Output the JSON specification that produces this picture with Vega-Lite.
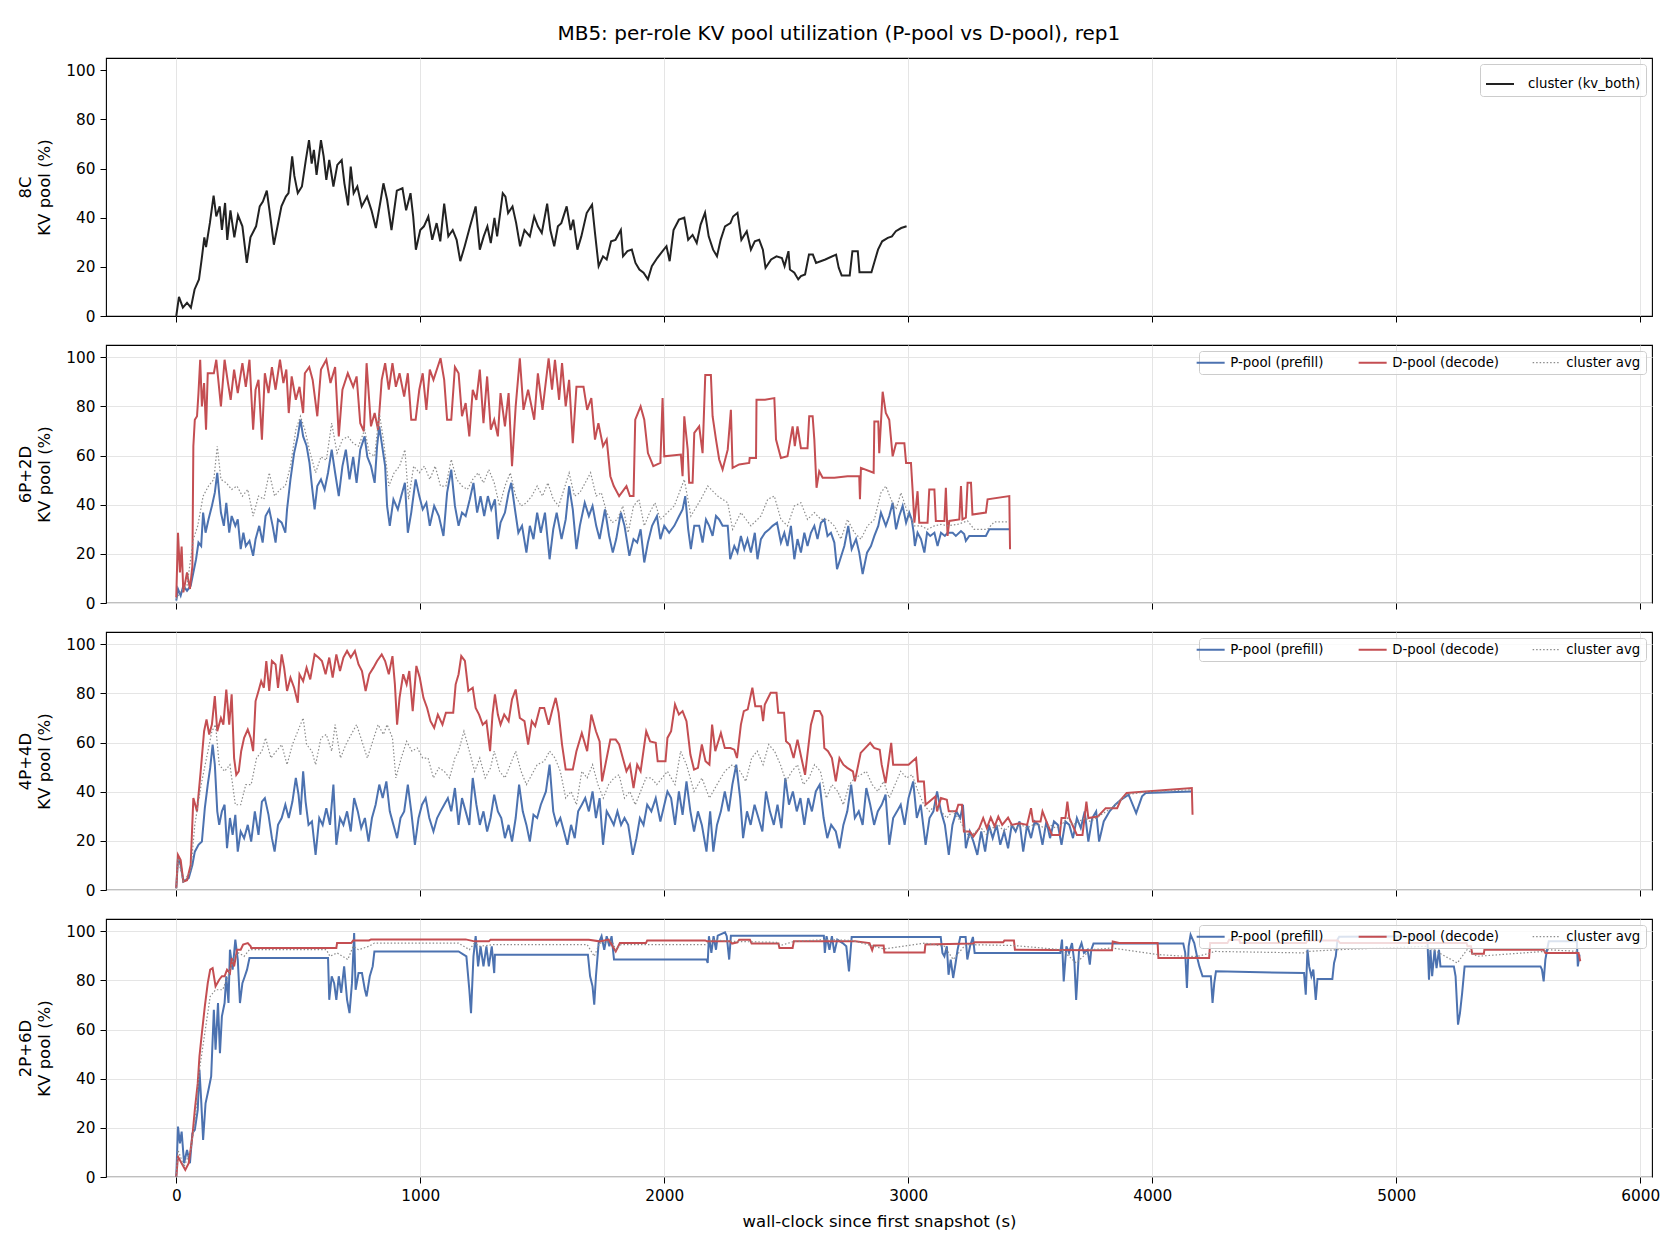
{
"$schema": "https://vega.github.io/schema/vega-lite/v6.json",
"autosize": {"type": "pad"},
"padding": {"left": 17, "top": 24, "right": 0, "bottom": 0},
"background": "white",
"title": {"text": "MB5: per-role KV pool utilization (P-pool vs D-pool), rep1", "fontSize": 20, "font": "DejaVu Sans", "fontWeight": "normal", "anchor": "middle", "offset": 13, "color": "#000"},
"config": {
 "font": "DejaVu Sans",
 "view": {"stroke": "#000", "strokeWidth": 1.1},
 "axis": {"labelFont": "DejaVu Sans", "titleFont": "DejaVu Sans", "labelFontSize": 15.3, "titleFontSize": 16.5, "titleFontWeight": "normal", "titleLineHeight": 19, "labelColor": "#000", "titleColor": "#000", "tickColor": "#000", "tickSize": 6, "domain": false, "gridColor": "#e5e5e5", "gridWidth": 1},
 "legend": {"orient": "top-right", "offset": 6, "title": null, "symbolType": "stroke", "symbolSize": 784, "symbolStrokeWidth": 2, "labelFontSize": 13.3, "labelFont": "DejaVu Sans", "labelOffset": 13, "fillColor": "rgba(255,255,255,0.8)", "strokeColor": "#cccccc", "cornerRadius": 3, "padding": 5, "columnPadding": 30, "direction": "horizontal"}
},
"datasets": {
"p1": [{"t":0,"v":0},{"t":11,"v":7.8},{"t":27,"v":3.4},{"t":44,"v":5.4},{"t":60,"v":3.4},{"t":75,"v":10.8},{"t":93,"v":14.9},{"t":104,"v":23},{"t":115,"v":32},{"t":122,"v":28},{"t":138,"v":38},{"t":153,"v":49},{"t":164,"v":40.5},{"t":178,"v":44.6},{"t":187,"v":35},{"t":200,"v":46},{"t":209,"v":31},{"t":222,"v":43},{"t":238,"v":32},{"t":253,"v":41},{"t":271,"v":36.5},{"t":289,"v":21.6},{"t":304,"v":32},{"t":327,"v":36.5},{"t":342,"v":44.6},{"t":355,"v":46.6},{"t":371,"v":51},{"t":382,"v":43},{"t":400,"v":29},{"t":415,"v":36.5},{"t":431,"v":44.6},{"t":449,"v":48.6},{"t":460,"v":50},{"t":475,"v":65},{"t":484,"v":57},{"t":498,"v":50},{"t":515,"v":52.7},{"t":531,"v":63.5},{"t":544,"v":71.6},{"t":555,"v":62},{"t":564,"v":67.6},{"t":575,"v":57.4},{"t":593,"v":71.6},{"t":604,"v":65},{"t":615,"v":55.4},{"t":627,"v":63.5},{"t":644,"v":52.7},{"t":660,"v":61.5},{"t":678,"v":63.5},{"t":689,"v":54},{"t":704,"v":45},{"t":715,"v":60.8},{"t":727,"v":50},{"t":742,"v":52.7},{"t":760,"v":44.6},{"t":782,"v":48.6},{"t":800,"v":43},{"t":818,"v":35.8},{"t":838,"v":47.3},{"t":849,"v":54},{"t":864,"v":47.3},{"t":882,"v":35},{"t":904,"v":51},{"t":927,"v":52},{"t":942,"v":43},{"t":960,"v":50},{"t":971,"v":40.5},{"t":982,"v":27},{"t":1000,"v":35},{"t":1015,"v":36.5},{"t":1033,"v":40.5},{"t":1049,"v":31},{"t":1067,"v":37.8},{"t":1082,"v":30.4},{"t":1098,"v":45.7},{"t":1115,"v":32.4},{"t":1133,"v":35},{"t":1149,"v":31},{"t":1164,"v":22.3},{"t":1182,"v":28.4},{"t":1204,"v":36.5},{"t":1227,"v":44.6},{"t":1244,"v":27},{"t":1260,"v":32.4},{"t":1275,"v":36.5},{"t":1289,"v":29.7},{"t":1304,"v":39.9},{"t":1315,"v":32.4},{"t":1338,"v":50},{"t":1349,"v":48.6},{"t":1360,"v":41.9},{"t":1378,"v":44.6},{"t":1393,"v":37.8},{"t":1409,"v":28.4},{"t":1427,"v":35},{"t":1449,"v":32.4},{"t":1467,"v":40.5},{"t":1482,"v":36.5},{"t":1498,"v":33.8},{"t":1520,"v":45.7},{"t":1533,"v":35},{"t":1549,"v":28.4},{"t":1564,"v":36.5},{"t":1578,"v":37.8},{"t":1600,"v":44.6},{"t":1616,"v":35},{"t":1627,"v":39.2},{"t":1644,"v":27},{"t":1660,"v":32.4},{"t":1682,"v":41.9},{"t":1704,"v":45.3},{"t":1716,"v":33.8},{"t":1731,"v":20.3},{"t":1749,"v":24.3},{"t":1764,"v":23},{"t":1782,"v":30.4},{"t":1800,"v":31},{"t":1822,"v":35},{"t":1831,"v":24.3},{"t":1849,"v":26.4},{"t":1867,"v":27},{"t":1882,"v":21.6},{"t":1898,"v":18.9},{"t":1915,"v":17.6},{"t":1933,"v":14.9},{"t":1949,"v":20.3},{"t":1971,"v":23.6},{"t":1993,"v":26.4},{"t":2009,"v":28.4},{"t":2022,"v":22.3},{"t":2038,"v":35},{"t":2060,"v":39.2},{"t":2082,"v":40},{"t":2098,"v":31},{"t":2116,"v":33},{"t":2133,"v":29.7},{"t":2149,"v":37.2},{"t":2167,"v":42},{"t":2182,"v":32.4},{"t":2200,"v":27},{"t":2216,"v":24.3},{"t":2231,"v":31},{"t":2249,"v":36.5},{"t":2271,"v":37.8},{"t":2282,"v":40.5},{"t":2300,"v":42},{"t":2316,"v":31},{"t":2338,"v":34.5},{"t":2355,"v":27},{"t":2371,"v":30.4},{"t":2389,"v":31},{"t":2404,"v":27},{"t":2415,"v":19.6},{"t":2438,"v":23},{"t":2460,"v":24.3},{"t":2482,"v":23.6},{"t":2493,"v":20.3},{"t":2509,"v":26.4},{"t":2515,"v":18.9},{"t":2533,"v":17.6},{"t":2549,"v":14.9},{"t":2560,"v":16.2},{"t":2577,"v":16.9},{"t":2593,"v":25},{"t":2609,"v":25},{"t":2622,"v":21.6},{"t":2660,"v":23},{"t":2704,"v":25},{"t":2715,"v":19.6},{"t":2727,"v":16.5},{"t":2760,"v":16.5},{"t":2771,"v":26.4},{"t":2793,"v":26.4},{"t":2800,"v":17.8},{"t":2849,"v":17.8},{"t":2860,"v":21.6},{"t":2876,"v":27},{"t":2893,"v":30.4},{"t":2916,"v":31.8},{"t":2933,"v":32.4},{"t":2949,"v":34.5},{"t":2971,"v":35.8},{"t":2993,"v":36.5}],
"p2P": [{"t":0,"v":1},{"t":7,"v":5.7},{"t":18,"v":3},{"t":29,"v":7},{"t":44,"v":5},{"t":59,"v":7},{"t":70,"v":12.4},{"t":81,"v":17.8},{"t":91,"v":24.6},{"t":102,"v":23.2},{"t":110,"v":36.8},{"t":120,"v":28.6},{"t":132,"v":34},{"t":146,"v":39.5},{"t":158,"v":44.9},{"t":168,"v":53},{"t":183,"v":36.8},{"t":195,"v":31.4},{"t":205,"v":40.8},{"t":217,"v":28.6},{"t":227,"v":35.4},{"t":242,"v":31.4},{"t":252,"v":34},{"t":264,"v":21.9},{"t":275,"v":28.6},{"t":285,"v":23.2},{"t":300,"v":25.3},{"t":315,"v":19.2},{"t":325,"v":26},{"t":340,"v":31.4},{"t":354,"v":24.6},{"t":366,"v":35.4},{"t":381,"v":38.1},{"t":395,"v":31.4},{"t":407,"v":24.6},{"t":417,"v":34},{"t":432,"v":32.7},{"t":447,"v":28.6},{"t":454,"v":38.1},{"t":468,"v":50.3},{"t":483,"v":61},{"t":498,"v":67.8},{"t":509,"v":74.6},{"t":520,"v":67.8},{"t":534,"v":64},{"t":546,"v":57},{"t":556,"v":47.6},{"t":567,"v":38.1},{"t":578,"v":47.6},{"t":593,"v":50.3},{"t":608,"v":46.2},{"t":622,"v":53},{"t":637,"v":62.4},{"t":651,"v":53},{"t":666,"v":43.5},{"t":681,"v":55.7},{"t":695,"v":62.4},{"t":710,"v":50.3},{"t":725,"v":59.5},{"t":739,"v":48.9},{"t":754,"v":62.4},{"t":772,"v":67.8},{"t":783,"v":59.5},{"t":798,"v":55.7},{"t":813,"v":48.9},{"t":823,"v":63.8},{"t":832,"v":71.9},{"t":846,"v":62.4},{"t":856,"v":55.7},{"t":864,"v":39.5},{"t":875,"v":31.4},{"t":890,"v":42.2},{"t":908,"v":38.1},{"t":922,"v":43.5},{"t":937,"v":48.9},{"t":949,"v":28.6},{"t":963,"v":36.8},{"t":981,"v":50.3},{"t":996,"v":43.5},{"t":1010,"v":38.1},{"t":1025,"v":40.8},{"t":1039,"v":31.4},{"t":1057,"v":39.5},{"t":1076,"v":35.4},{"t":1095,"v":27.3},{"t":1110,"v":44.9},{"t":1127,"v":54.3},{"t":1142,"v":39.5},{"t":1157,"v":31.4},{"t":1171,"v":36.8},{"t":1186,"v":35.4},{"t":1203,"v":42.2},{"t":1218,"v":48.9},{"t":1233,"v":36.8},{"t":1247,"v":43.5},{"t":1262,"v":35.4},{"t":1277,"v":43.5},{"t":1291,"v":38.1},{"t":1306,"v":42.2},{"t":1318,"v":26},{"t":1329,"v":32.7},{"t":1347,"v":36.8},{"t":1362,"v":44.9},{"t":1373,"v":48.9},{"t":1388,"v":38.1},{"t":1402,"v":28.6},{"t":1417,"v":31.4},{"t":1435,"v":20.5},{"t":1449,"v":31.4},{"t":1464,"v":26},{"t":1479,"v":36.8},{"t":1494,"v":28.6},{"t":1511,"v":36.8},{"t":1530,"v":17.8},{"t":1545,"v":30},{"t":1559,"v":36.8},{"t":1579,"v":26},{"t":1596,"v":34},{"t":1610,"v":47.6},{"t":1625,"v":38.1},{"t":1640,"v":21.9},{"t":1654,"v":31.4},{"t":1674,"v":40.8},{"t":1691,"v":35.4},{"t":1706,"v":39.5},{"t":1721,"v":31.4},{"t":1735,"v":26},{"t":1757,"v":38.1},{"t":1774,"v":27.3},{"t":1789,"v":20.5},{"t":1803,"v":26},{"t":1822,"v":36.8},{"t":1837,"v":31.4},{"t":1857,"v":19.2},{"t":1874,"v":26},{"t":1889,"v":24.6},{"t":1903,"v":30},{"t":1918,"v":16.5},{"t":1933,"v":24.6},{"t":1950,"v":31.4},{"t":1970,"v":35.4},{"t":1984,"v":26},{"t":2000,"v":31.4},{"t":2020,"v":28.6},{"t":2041,"v":31.4},{"t":2061,"v":35.4},{"t":2075,"v":38.1},{"t":2086,"v":43.5},{"t":2098,"v":30},{"t":2109,"v":21.9},{"t":2123,"v":31.4},{"t":2143,"v":31.4},{"t":2157,"v":24.6},{"t":2171,"v":34},{"t":2184,"v":31.4},{"t":2198,"v":27.3},{"t":2212,"v":35.4},{"t":2225,"v":34},{"t":2239,"v":31.4},{"t":2260,"v":31.4},{"t":2270,"v":17.8},{"t":2287,"v":23.2},{"t":2300,"v":20.5},{"t":2314,"v":27.3},{"t":2328,"v":21.9},{"t":2341,"v":26},{"t":2355,"v":20.5},{"t":2371,"v":28.6},{"t":2382,"v":17.8},{"t":2396,"v":26},{"t":2413,"v":28.6},{"t":2430,"v":30},{"t":2444,"v":31.4},{"t":2462,"v":32.7},{"t":2478,"v":24.6},{"t":2492,"v":28.6},{"t":2505,"v":23.2},{"t":2519,"v":31.4},{"t":2533,"v":17.8},{"t":2546,"v":26},{"t":2560,"v":20.5},{"t":2574,"v":28.6},{"t":2587,"v":23.2},{"t":2601,"v":28.6},{"t":2615,"v":31.4},{"t":2628,"v":26},{"t":2642,"v":32.7},{"t":2656,"v":34},{"t":2669,"v":27.3},{"t":2683,"v":28.6},{"t":2697,"v":24.6},{"t":2708,"v":13.8},{"t":2721,"v":17.8},{"t":2738,"v":23.2},{"t":2754,"v":31.4},{"t":2768,"v":21.9},{"t":2786,"v":26},{"t":2799,"v":20.5},{"t":2813,"v":11.8},{"t":2831,"v":20.5},{"t":2847,"v":23.2},{"t":2861,"v":27.3},{"t":2877,"v":31.4},{"t":2888,"v":36.8},{"t":2908,"v":31.4},{"t":2922,"v":35.4},{"t":2936,"v":40.8},{"t":2950,"v":30},{"t":2963,"v":35.4},{"t":2977,"v":39.5},{"t":2991,"v":32.7},{"t":3004,"v":36.8},{"t":3014,"v":34},{"t":3022,"v":28.6},{"t":3027,"v":23.2},{"t":3038,"v":28.6},{"t":3052,"v":26},{"t":3066,"v":20.5},{"t":3077,"v":28.6},{"t":3090,"v":27.3},{"t":3107,"v":28.6},{"t":3120,"v":23.2},{"t":3134,"v":28.6},{"t":3150,"v":27.3},{"t":3161,"v":28.6},{"t":3182,"v":28.6},{"t":3195,"v":27.3},{"t":3216,"v":29.3},{"t":3229,"v":28.1},{"t":3236,"v":25.3},{"t":3250,"v":27.3},{"t":3318,"v":27.3},{"t":3332,"v":30},{"t":3414,"v":30}],
"p2D": [{"t":0,"v":2.3},{"t":7,"v":28.6},{"t":15,"v":12.4},{"t":22,"v":23},{"t":29,"v":4.3},{"t":44,"v":12.4},{"t":56,"v":5.7},{"t":66,"v":15},{"t":70,"v":63.8},{"t":76,"v":74.6},{"t":85,"v":76},{"t":91,"v":85.4},{"t":98,"v":99},{"t":105,"v":80},{"t":114,"v":89.5},{"t":122,"v":70.5},{"t":129,"v":93.5},{"t":154,"v":93.5},{"t":164,"v":99},{"t":183,"v":80},{"t":198,"v":99},{"t":212,"v":89.5},{"t":223,"v":82.7},{"t":237,"v":95},{"t":252,"v":85.4},{"t":271,"v":97.6},{"t":285,"v":88},{"t":300,"v":99},{"t":315,"v":70.5},{"t":325,"v":86.8},{"t":337,"v":90.8},{"t":351,"v":66.5},{"t":363,"v":93.5},{"t":378,"v":85.4},{"t":392,"v":96},{"t":407,"v":86.8},{"t":425,"v":99},{"t":439,"v":89.5},{"t":451,"v":95},{"t":461,"v":77.3},{"t":473,"v":92.2},{"t":490,"v":82.7},{"t":505,"v":88},{"t":520,"v":77.3},{"t":527,"v":93.5},{"t":545,"v":96},{"t":559,"v":90.8},{"t":578,"v":76},{"t":593,"v":95},{"t":615,"v":99},{"t":632,"v":89.5},{"t":651,"v":96},{"t":666,"v":67.8},{"t":681,"v":86.8},{"t":703,"v":93.5},{"t":725,"v":88},{"t":739,"v":92.2},{"t":754,"v":73.2},{"t":769,"v":69.9},{"t":780,"v":97.6},{"t":798,"v":71.9},{"t":813,"v":77.3},{"t":827,"v":70.5},{"t":842,"v":90.8},{"t":856,"v":97.6},{"t":871,"v":86.8},{"t":886,"v":97.6},{"t":900,"v":88},{"t":915,"v":93.5},{"t":934,"v":84},{"t":949,"v":93.5},{"t":963,"v":74.6},{"t":981,"v":74.6},{"t":996,"v":86.8},{"t":1010,"v":93.5},{"t":1025,"v":78.6},{"t":1039,"v":95},{"t":1054,"v":90.8},{"t":1083,"v":99.6},{"t":1098,"v":90.8},{"t":1110,"v":74.6},{"t":1127,"v":74.6},{"t":1142,"v":96},{"t":1157,"v":93.5},{"t":1171,"v":76},{"t":1186,"v":81.4},{"t":1201,"v":67.8},{"t":1215,"v":86.8},{"t":1230,"v":82.7},{"t":1244,"v":95},{"t":1259,"v":73.2},{"t":1274,"v":92.2},{"t":1289,"v":70.5},{"t":1303,"v":74.6},{"t":1318,"v":67.8},{"t":1329,"v":85.4},{"t":1347,"v":71.9},{"t":1362,"v":85.4},{"t":1376,"v":55.7},{"t":1391,"v":80},{"t":1408,"v":99.6},{"t":1423,"v":78.6},{"t":1442,"v":86.8},{"t":1467,"v":74.6},{"t":1482,"v":93.5},{"t":1501,"v":78.6},{"t":1526,"v":99.6},{"t":1540,"v":86.8},{"t":1552,"v":99},{"t":1569,"v":82.7},{"t":1581,"v":97.6},{"t":1596,"v":80},{"t":1610,"v":90.8},{"t":1625,"v":65},{"t":1640,"v":88},{"t":1669,"v":88},{"t":1684,"v":78.6},{"t":1701,"v":83.4},{"t":1716,"v":66.5},{"t":1730,"v":73.2},{"t":1749,"v":63.8},{"t":1764,"v":66.5},{"t":1779,"v":51.6},{"t":1793,"v":47.6},{"t":1815,"v":43.5},{"t":1845,"v":47.6},{"t":1859,"v":43.5},{"t":1874,"v":43.5},{"t":1881,"v":74.6},{"t":1903,"v":80},{"t":1918,"v":74.6},{"t":1933,"v":61},{"t":1955,"v":55.7},{"t":1984,"v":57},{"t":1993,"v":83.4},{"t":2000,"v":59.7},{"t":2068,"v":60.4},{"t":2075,"v":51.6},{"t":2082,"v":76},{"t":2096,"v":62.4},{"t":2102,"v":48.9},{"t":2116,"v":48.9},{"t":2123,"v":69.2},{"t":2143,"v":71.9},{"t":2157,"v":61},{"t":2168,"v":92.8},{"t":2191,"v":92.8},{"t":2198,"v":76},{"t":2212,"v":66.5},{"t":2225,"v":58.4},{"t":2239,"v":54.3},{"t":2260,"v":62.4},{"t":2273,"v":78.6},{"t":2280,"v":55},{"t":2307,"v":56.4},{"t":2348,"v":57},{"t":2350,"v":59},{"t":2376,"v":59},{"t":2378,"v":82.7},{"t":2413,"v":82.7},{"t":2451,"v":83.4},{"t":2458,"v":66.5},{"t":2478,"v":59},{"t":2505,"v":59.7},{"t":2526,"v":71.9},{"t":2535,"v":63.8},{"t":2546,"v":71.9},{"t":2560,"v":63},{"t":2587,"v":63},{"t":2594,"v":76},{"t":2608,"v":76},{"t":2615,"v":66.5},{"t":2624,"v":46.9},{"t":2635,"v":53.6},{"t":2649,"v":51},{"t":2697,"v":51},{"t":2751,"v":51.6},{"t":2799,"v":51.6},{"t":2802,"v":42.2},{"t":2806,"v":55},{"t":2858,"v":53},{"t":2861,"v":73.9},{"t":2877,"v":73.9},{"t":2881,"v":61},{"t":2895,"v":86},{"t":2908,"v":77.3},{"t":2922,"v":74.6},{"t":2936,"v":59.7},{"t":2950,"v":65},{"t":2984,"v":65},{"t":2991,"v":57},{"t":3011,"v":57},{"t":3018,"v":45.5},{"t":3025,"v":32.7},{"t":3038,"v":45.5},{"t":3045,"v":32.7},{"t":3079,"v":32.7},{"t":3086,"v":46.2},{"t":3107,"v":46.2},{"t":3113,"v":33.4},{"t":3148,"v":33.4},{"t":3154,"v":46.9},{"t":3161,"v":27.3},{"t":3168,"v":33.4},{"t":3209,"v":34},{"t":3216,"v":47.6},{"t":3222,"v":34},{"t":3236,"v":34.7},{"t":3243,"v":48.9},{"t":3257,"v":48.9},{"t":3263,"v":36},{"t":3318,"v":36.8},{"t":3325,"v":42.2},{"t":3414,"v":43.5},{"t":3417,"v":21.9}],
"p2A": [{"t":0,"v":1.6},{"t":15,"v":4.3},{"t":44,"v":7},{"t":70,"v":26},{"t":88,"v":31.4},{"t":110,"v":43.5},{"t":132,"v":47.6},{"t":154,"v":50.3},{"t":168,"v":63.8},{"t":183,"v":50.3},{"t":205,"v":48.9},{"t":227,"v":46.2},{"t":249,"v":47.6},{"t":271,"v":43.5},{"t":293,"v":46.2},{"t":315,"v":35.4},{"t":337,"v":43.5},{"t":359,"v":42.2},{"t":381,"v":53},{"t":403,"v":43.5},{"t":425,"v":46.2},{"t":447,"v":47.6},{"t":468,"v":55.7},{"t":490,"v":70.5},{"t":509,"v":76},{"t":527,"v":70.5},{"t":549,"v":61},{"t":571,"v":53},{"t":593,"v":59.5},{"t":615,"v":58.1},{"t":637,"v":73.2},{"t":659,"v":61},{"t":681,"v":66.5},{"t":703,"v":67.8},{"t":725,"v":65},{"t":747,"v":63.8},{"t":772,"v":70.5},{"t":791,"v":61},{"t":813,"v":59.7},{"t":832,"v":77.3},{"t":849,"v":66.5},{"t":871,"v":47.6},{"t":893,"v":53},{"t":915,"v":55.7},{"t":937,"v":62.4},{"t":952,"v":42.2},{"t":973,"v":55.7},{"t":996,"v":53},{"t":1017,"v":55.7},{"t":1039,"v":50.3},{"t":1061,"v":55.7},{"t":1083,"v":47.6},{"t":1105,"v":47.6},{"t":1127,"v":58.4},{"t":1149,"v":50.3},{"t":1171,"v":47.6},{"t":1193,"v":46.2},{"t":1215,"v":50.3},{"t":1237,"v":53},{"t":1259,"v":48.9},{"t":1281,"v":54.3},{"t":1303,"v":48.9},{"t":1325,"v":39.5},{"t":1347,"v":47.6},{"t":1369,"v":53},{"t":1391,"v":43.5},{"t":1413,"v":39.5},{"t":1435,"v":40.8},{"t":1457,"v":43.5},{"t":1479,"v":47.6},{"t":1501,"v":43.5},{"t":1523,"v":48.9},{"t":1545,"v":42.2},{"t":1567,"v":39.5},{"t":1589,"v":46.2},{"t":1610,"v":53},{"t":1632,"v":43.5},{"t":1654,"v":44.9},{"t":1676,"v":48.9},{"t":1698,"v":53},{"t":1721,"v":43.5},{"t":1742,"v":44.9},{"t":1764,"v":36.8},{"t":1786,"v":32.7},{"t":1808,"v":34},{"t":1830,"v":39.5},{"t":1852,"v":28.6},{"t":1874,"v":39.5},{"t":1896,"v":42.2},{"t":1918,"v":31.4},{"t":1940,"v":36.8},{"t":1962,"v":40.8},{"t":1984,"v":34},{"t":2041,"v":39.5},{"t":2082,"v":50.3},{"t":2109,"v":35.4},{"t":2150,"v":42.2},{"t":2178,"v":47.6},{"t":2219,"v":43.5},{"t":2260,"v":40.8},{"t":2280,"v":30},{"t":2314,"v":36.8},{"t":2355,"v":31.4},{"t":2396,"v":35.4},{"t":2424,"v":42.2},{"t":2451,"v":43.5},{"t":2478,"v":34},{"t":2505,"v":31.4},{"t":2533,"v":39.5},{"t":2560,"v":40.8},{"t":2587,"v":34},{"t":2615,"v":36.8},{"t":2642,"v":34},{"t":2669,"v":34},{"t":2697,"v":31.4},{"t":2724,"v":26},{"t":2751,"v":34},{"t":2779,"v":28.6},{"t":2806,"v":26},{"t":2833,"v":31.4},{"t":2861,"v":34},{"t":2888,"v":44.9},{"t":2908,"v":47.6},{"t":2929,"v":42.2},{"t":2950,"v":38.1},{"t":2970,"v":44.9},{"t":2997,"v":36.8},{"t":3025,"v":31.4},{"t":3052,"v":31.4},{"t":3079,"v":30},{"t":3107,"v":31.4},{"t":3134,"v":32},{"t":3161,"v":31.4},{"t":3202,"v":32},{"t":3243,"v":33.4},{"t":3270,"v":30},{"t":3325,"v":30},{"t":3352,"v":33},{"t":3414,"v":33}],
"p3P": [{"t":0,"v":0.7},{"t":7,"v":12.9},{"t":18,"v":10.2},{"t":29,"v":3.4},{"t":51,"v":4.8},{"t":66,"v":10.2},{"t":76,"v":15.6},{"t":91,"v":18.4},{"t":105,"v":19.7},{"t":117,"v":33.3},{"t":129,"v":42.9},{"t":139,"v":49.7},{"t":149,"v":59.2},{"t":158,"v":51},{"t":168,"v":32},{"t":176,"v":26.5},{"t":187,"v":32},{"t":198,"v":34.7},{"t":208,"v":17},{"t":220,"v":29.3},{"t":231,"v":22.4},{"t":242,"v":30.6},{"t":252,"v":15.6},{"t":264,"v":23.8},{"t":278,"v":21.1},{"t":293,"v":26.5},{"t":307,"v":19.7},{"t":322,"v":32},{"t":337,"v":22.4},{"t":351,"v":36},{"t":363,"v":37.4},{"t":378,"v":30.6},{"t":392,"v":21.1},{"t":403,"v":15.6},{"t":417,"v":26.5},{"t":432,"v":29.3},{"t":447,"v":34.7},{"t":461,"v":29.3},{"t":476,"v":36},{"t":490,"v":45.6},{"t":501,"v":38.8},{"t":509,"v":30.6},{"t":520,"v":48.3},{"t":530,"v":36},{"t":542,"v":26.5},{"t":556,"v":27.9},{"t":571,"v":14.3},{"t":586,"v":29.3},{"t":600,"v":26.5},{"t":615,"v":33.3},{"t":630,"v":26.5},{"t":644,"v":42.9},{"t":656,"v":18.4},{"t":671,"v":29.3},{"t":685,"v":26.5},{"t":700,"v":32},{"t":715,"v":23.8},{"t":729,"v":37.4},{"t":744,"v":32},{"t":758,"v":25.2},{"t":773,"v":29.3},{"t":788,"v":19.7},{"t":802,"v":29.3},{"t":817,"v":34.7},{"t":832,"v":42.9},{"t":846,"v":37.4},{"t":861,"v":44.2},{"t":875,"v":32},{"t":890,"v":26.5},{"t":905,"v":21.1},{"t":919,"v":29.3},{"t":934,"v":32},{"t":949,"v":42.9},{"t":963,"v":32},{"t":978,"v":18.4},{"t":993,"v":29.3},{"t":1007,"v":34.7},{"t":1022,"v":37.4},{"t":1037,"v":29.3},{"t":1054,"v":23.8},{"t":1069,"v":29.3},{"t":1083,"v":32},{"t":1098,"v":34.7},{"t":1113,"v":37.4},{"t":1127,"v":32},{"t":1142,"v":41.5},{"t":1157,"v":26.5},{"t":1171,"v":37.4},{"t":1186,"v":32},{"t":1201,"v":26.5},{"t":1215,"v":45.6},{"t":1230,"v":34.7},{"t":1244,"v":26.5},{"t":1259,"v":32},{"t":1274,"v":23.8},{"t":1288,"v":29.3},{"t":1303,"v":38.8},{"t":1318,"v":32},{"t":1332,"v":29.3},{"t":1347,"v":21.1},{"t":1362,"v":26.5},{"t":1376,"v":19.7},{"t":1391,"v":29.3},{"t":1405,"v":42.9},{"t":1420,"v":32},{"t":1435,"v":26.5},{"t":1449,"v":19.7},{"t":1464,"v":30.6},{"t":1479,"v":29.3},{"t":1494,"v":34.7},{"t":1515,"v":40.1},{"t":1530,"v":51},{"t":1545,"v":32},{"t":1559,"v":26.5},{"t":1574,"v":29.3},{"t":1589,"v":23.8},{"t":1603,"v":18.4},{"t":1618,"v":26.5},{"t":1633,"v":21.1},{"t":1647,"v":32},{"t":1662,"v":34.7},{"t":1676,"v":37.4},{"t":1691,"v":32},{"t":1706,"v":40.1},{"t":1720,"v":29.3},{"t":1735,"v":37.4},{"t":1749,"v":18.4},{"t":1764,"v":32},{"t":1779,"v":29.3},{"t":1793,"v":26.5},{"t":1808,"v":32},{"t":1823,"v":26.5},{"t":1837,"v":29.3},{"t":1852,"v":26.5},{"t":1871,"v":14.3},{"t":1886,"v":21.1},{"t":1900,"v":29.3},{"t":1915,"v":26.5},{"t":1930,"v":34.7},{"t":1947,"v":32},{"t":1965,"v":37.4},{"t":1984,"v":27.9},{"t":2013,"v":40.1},{"t":2028,"v":37.4},{"t":2044,"v":26.5},{"t":2060,"v":40.1},{"t":2075,"v":30.6},{"t":2091,"v":44.2},{"t":2107,"v":32},{"t":2122,"v":23.8},{"t":2138,"v":32},{"t":2154,"v":26.5},{"t":2173,"v":15.6},{"t":2188,"v":32},{"t":2201,"v":15.6},{"t":2216,"v":26.5},{"t":2232,"v":32},{"t":2248,"v":40.1},{"t":2264,"v":32},{"t":2279,"v":42.9},{"t":2295,"v":51},{"t":2311,"v":37.4},{"t":2323,"v":21.1},{"t":2339,"v":32},{"t":2354,"v":26.5},{"t":2370,"v":34.7},{"t":2386,"v":29.3},{"t":2402,"v":23.8},{"t":2417,"v":40.1},{"t":2433,"v":32},{"t":2449,"v":26.5},{"t":2464,"v":34.7},{"t":2480,"v":25.2},{"t":2496,"v":45.6},{"t":2511,"v":34.7},{"t":2527,"v":40.1},{"t":2543,"v":32},{"t":2558,"v":37.4},{"t":2574,"v":26.5},{"t":2590,"v":37.4},{"t":2605,"v":32},{"t":2621,"v":40.1},{"t":2637,"v":42.9},{"t":2653,"v":29.3},{"t":2668,"v":21.1},{"t":2684,"v":26.5},{"t":2703,"v":23.8},{"t":2718,"v":17},{"t":2734,"v":26.5},{"t":2750,"v":32},{"t":2766,"v":42.9},{"t":2781,"v":29.3},{"t":2797,"v":32},{"t":2813,"v":26.5},{"t":2828,"v":41.5},{"t":2844,"v":34.7},{"t":2860,"v":26.5},{"t":2875,"v":32},{"t":2891,"v":34.7},{"t":2907,"v":38.8},{"t":2922,"v":18.4},{"t":2938,"v":29.3},{"t":2954,"v":32},{"t":2969,"v":34.7},{"t":2985,"v":26.5},{"t":3001,"v":37.4},{"t":3020,"v":44.2},{"t":3035,"v":29.3},{"t":3051,"v":34.7},{"t":3071,"v":18.4},{"t":3087,"v":29.3},{"t":3103,"v":32},{"t":3118,"v":40.1},{"t":3134,"v":32},{"t":3150,"v":26.5},{"t":3166,"v":14.3},{"t":3181,"v":26.5},{"t":3197,"v":32},{"t":3213,"v":29.3},{"t":3224,"v":34.7},{"t":3236,"v":17},{"t":3252,"v":23.8},{"t":3267,"v":19.7},{"t":3283,"v":14.3},{"t":3299,"v":23.8},{"t":3315,"v":15.6},{"t":3330,"v":26.5},{"t":3346,"v":21.1},{"t":3362,"v":26.5},{"t":3377,"v":18.4},{"t":3393,"v":23.8},{"t":3409,"v":17},{"t":3424,"v":26.5},{"t":3440,"v":23.8},{"t":3456,"v":27.9},{"t":3471,"v":15.6},{"t":3487,"v":26.5},{"t":3503,"v":21.1},{"t":3518,"v":27.9},{"t":3534,"v":26.5},{"t":3550,"v":18.4},{"t":3566,"v":27.9},{"t":3581,"v":21.1},{"t":3597,"v":27.9},{"t":3613,"v":26.5},{"t":3628,"v":18.4},{"t":3644,"v":27.9},{"t":3660,"v":26.5},{"t":3675,"v":21.1},{"t":3691,"v":29.3},{"t":3707,"v":25.2},{"t":3723,"v":32},{"t":3738,"v":19.7},{"t":3754,"v":29.3},{"t":3770,"v":32},{"t":3782,"v":19.7},{"t":3801,"v":27.9},{"t":3825,"v":32},{"t":3848,"v":34.7},{"t":3871,"v":36.7},{"t":3903,"v":38.8},{"t":3934,"v":31.3},{"t":3958,"v":38.1},{"t":3973,"v":39.5},{"t":4162,"v":40.1}],
"p3D": [{"t":0,"v":0.7},{"t":7,"v":14.3},{"t":18,"v":12.2},{"t":29,"v":3.4},{"t":44,"v":4},{"t":59,"v":10.2},{"t":70,"v":37.4},{"t":85,"v":32},{"t":100,"v":48.3},{"t":114,"v":64.6},{"t":124,"v":69.4},{"t":135,"v":63.3},{"t":146,"v":67.3},{"t":158,"v":78.9},{"t":168,"v":64.6},{"t":183,"v":70},{"t":193,"v":67.3},{"t":205,"v":81.6},{"t":217,"v":67.3},{"t":227,"v":79.6},{"t":237,"v":53.7},{"t":246,"v":46.9},{"t":256,"v":48.3},{"t":266,"v":56.5},{"t":278,"v":61.9},{"t":293,"v":65.3},{"t":305,"v":61.9},{"t":315,"v":56.5},{"t":325,"v":76.9},{"t":337,"v":81},{"t":348,"v":85},{"t":359,"v":82.3},{"t":369,"v":93.2},{"t":381,"v":81},{"t":392,"v":93.2},{"t":407,"v":91.8},{"t":417,"v":82.3},{"t":432,"v":95.9},{"t":442,"v":90.5},{"t":454,"v":81},{"t":468,"v":86.4},{"t":483,"v":82.3},{"t":498,"v":76.2},{"t":505,"v":87.8},{"t":520,"v":85},{"t":534,"v":90.5},{"t":549,"v":85.7},{"t":567,"v":95.9},{"t":583,"v":94.6},{"t":597,"v":93.2},{"t":612,"v":87.8},{"t":627,"v":94.6},{"t":641,"v":86.4},{"t":656,"v":95.9},{"t":671,"v":89.1},{"t":685,"v":94.6},{"t":700,"v":97.3},{"t":715,"v":94.6},{"t":732,"v":97.3},{"t":747,"v":91.8},{"t":761,"v":89.1},{"t":776,"v":81},{"t":791,"v":87.8},{"t":808,"v":90.5},{"t":823,"v":93.2},{"t":842,"v":95.9},{"t":856,"v":93.2},{"t":871,"v":87.8},{"t":886,"v":95.2},{"t":896,"v":83.7},{"t":905,"v":67.3},{"t":915,"v":78.2},{"t":930,"v":87.8},{"t":944,"v":83.7},{"t":955,"v":89.1},{"t":969,"v":72.8},{"t":984,"v":91.2},{"t":998,"v":86.4},{"t":1013,"v":78.2},{"t":1028,"v":74.1},{"t":1042,"v":68.7},{"t":1057,"v":66},{"t":1072,"v":71.4},{"t":1091,"v":67.3},{"t":1105,"v":72.1},{"t":1135,"v":72.1},{"t":1145,"v":83.7},{"t":1157,"v":87.8},{"t":1168,"v":95.2},{"t":1183,"v":93.2},{"t":1197,"v":81},{"t":1215,"v":82.3},{"t":1227,"v":74.1},{"t":1241,"v":71.4},{"t":1256,"v":67.3},{"t":1271,"v":68.7},{"t":1286,"v":56.5},{"t":1296,"v":71.4},{"t":1306,"v":79.6},{"t":1318,"v":71.4},{"t":1329,"v":67.3},{"t":1344,"v":71.4},{"t":1362,"v":68.7},{"t":1376,"v":77.6},{"t":1391,"v":81.6},{"t":1408,"v":70},{"t":1427,"v":68.7},{"t":1442,"v":59.2},{"t":1457,"v":68.7},{"t":1471,"v":66.7},{"t":1490,"v":74.1},{"t":1508,"v":74.1},{"t":1526,"v":67.3},{"t":1540,"v":72.8},{"t":1555,"v":78.2},{"t":1567,"v":72.1},{"t":1581,"v":59.2},{"t":1596,"v":49},{"t":1625,"v":49},{"t":1640,"v":56.5},{"t":1662,"v":63.9},{"t":1684,"v":56.5},{"t":1701,"v":71.4},{"t":1720,"v":64.6},{"t":1735,"v":60.5},{"t":1745,"v":44.2},{"t":1764,"v":53.7},{"t":1779,"v":61.2},{"t":1801,"v":61.2},{"t":1815,"v":59.2},{"t":1830,"v":53.7},{"t":1845,"v":48.3},{"t":1859,"v":51},{"t":1874,"v":41.5},{"t":1889,"v":51},{"t":1903,"v":48.3},{"t":1926,"v":64.6},{"t":1942,"v":60.5},{"t":1965,"v":59.9},{"t":1973,"v":52.4},{"t":2005,"v":52.4},{"t":2013,"v":61.9},{"t":2028,"v":64.6},{"t":2044,"v":75.5},{"t":2060,"v":71.4},{"t":2075,"v":72.8},{"t":2091,"v":68.7},{"t":2107,"v":55.1},{"t":2122,"v":49},{"t":2138,"v":49.7},{"t":2154,"v":59.2},{"t":2169,"v":52.4},{"t":2185,"v":51},{"t":2196,"v":67.3},{"t":2209,"v":56.5},{"t":2232,"v":63.9},{"t":2248,"v":57.8},{"t":2271,"v":57.8},{"t":2287,"v":57.1},{"t":2298,"v":53.7},{"t":2314,"v":67.3},{"t":2326,"v":72.8},{"t":2342,"v":73.5},{"t":2361,"v":82.3},{"t":2373,"v":74.8},{"t":2397,"v":74.8},{"t":2405,"v":68.7},{"t":2412,"v":75.5},{"t":2436,"v":80.3},{"t":2460,"v":80.3},{"t":2467,"v":72.1},{"t":2491,"v":72.1},{"t":2499,"v":60.5},{"t":2514,"v":59.2},{"t":2530,"v":53.7},{"t":2546,"v":61.2},{"t":2562,"v":53.7},{"t":2577,"v":46.9},{"t":2601,"v":67.3},{"t":2616,"v":72.8},{"t":2637,"v":72.8},{"t":2648,"v":70.7},{"t":2656,"v":57.8},{"t":2671,"v":56.5},{"t":2687,"v":53.7},{"t":2703,"v":44.2},{"t":2718,"v":53.7},{"t":2734,"v":51},{"t":2750,"v":49.7},{"t":2773,"v":48.3},{"t":2781,"v":44.2},{"t":2805,"v":55.8},{"t":2844,"v":59.9},{"t":2860,"v":57.8},{"t":2883,"v":57.1},{"t":2891,"v":51},{"t":2907,"v":43.5},{"t":2930,"v":59.9},{"t":2938,"v":51},{"t":3001,"v":51},{"t":3032,"v":53.7},{"t":3040,"v":44.2},{"t":3064,"v":44.2},{"t":3071,"v":34.7},{"t":3111,"v":38.1},{"t":3118,"v":32},{"t":3134,"v":37.4},{"t":3158,"v":36.7},{"t":3166,"v":32},{"t":3197,"v":32},{"t":3205,"v":34.7},{"t":3220,"v":34.7},{"t":3228,"v":23.8},{"t":3252,"v":23.8},{"t":3267,"v":21.8},{"t":3291,"v":25.2},{"t":3307,"v":29.3},{"t":3322,"v":25.2},{"t":3338,"v":29.5},{"t":3354,"v":25.9},{"t":3369,"v":29.9},{"t":3385,"v":26.5},{"t":3409,"v":29.5},{"t":3424,"v":26.5},{"t":3456,"v":27.2},{"t":3487,"v":26.5},{"t":3503,"v":33.3},{"t":3511,"v":27.9},{"t":3542,"v":27.9},{"t":3550,"v":32},{"t":3566,"v":27.9},{"t":3589,"v":22.4},{"t":3621,"v":22.4},{"t":3628,"v":29.3},{"t":3644,"v":29.3},{"t":3652,"v":36},{"t":3660,"v":29.3},{"t":3691,"v":22.4},{"t":3714,"v":22.4},{"t":3730,"v":36},{"t":3738,"v":29.3},{"t":3777,"v":29.9},{"t":3809,"v":33.3},{"t":3856,"v":33.3},{"t":3871,"v":36.7},{"t":3895,"v":39.5},{"t":3973,"v":40.1},{"t":4162,"v":41.5},{"t":4165,"v":30.6}],
"p3A": [{"t":0,"v":0.7},{"t":7,"v":12.9},{"t":29,"v":3.4},{"t":59,"v":7.5},{"t":76,"v":26.5},{"t":102,"v":42.9},{"t":124,"v":53.7},{"t":146,"v":64.6},{"t":161,"v":67.3},{"t":176,"v":51},{"t":198,"v":48.3},{"t":220,"v":51},{"t":242,"v":34.7},{"t":264,"v":34.7},{"t":285,"v":42.9},{"t":307,"v":42.9},{"t":329,"v":53.7},{"t":351,"v":56.5},{"t":366,"v":61.9},{"t":388,"v":53.7},{"t":410,"v":56.5},{"t":432,"v":59.2},{"t":454,"v":51},{"t":476,"v":59.2},{"t":498,"v":64.6},{"t":520,"v":70},{"t":534,"v":59.2},{"t":556,"v":56.5},{"t":571,"v":51},{"t":593,"v":61.9},{"t":615,"v":63.3},{"t":637,"v":56.5},{"t":651,"v":67.3},{"t":673,"v":53.7},{"t":695,"v":59.2},{"t":717,"v":63.3},{"t":739,"v":67.3},{"t":761,"v":60.5},{"t":783,"v":53.7},{"t":805,"v":60.5},{"t":827,"v":67.3},{"t":849,"v":63.3},{"t":864,"v":67.3},{"t":886,"v":61.9},{"t":900,"v":45.6},{"t":922,"v":53.7},{"t":944,"v":60.5},{"t":966,"v":56.5},{"t":988,"v":57.8},{"t":1010,"v":53.7},{"t":1032,"v":53.7},{"t":1054,"v":45.6},{"t":1076,"v":49.7},{"t":1098,"v":48.3},{"t":1120,"v":45.6},{"t":1142,"v":53.7},{"t":1157,"v":56.5},{"t":1179,"v":64.6},{"t":1201,"v":56.5},{"t":1223,"v":48.3},{"t":1244,"v":53.7},{"t":1266,"v":45.6},{"t":1288,"v":49.7},{"t":1303,"v":56.5},{"t":1325,"v":48.3},{"t":1347,"v":45.6},{"t":1369,"v":51},{"t":1391,"v":56.5},{"t":1413,"v":48.3},{"t":1435,"v":42.9},{"t":1457,"v":46.9},{"t":1479,"v":51},{"t":1508,"v":52.4},{"t":1530,"v":56.5},{"t":1552,"v":53.7},{"t":1574,"v":48.3},{"t":1596,"v":37.4},{"t":1618,"v":40.1},{"t":1640,"v":34.7},{"t":1662,"v":48.3},{"t":1684,"v":45.6},{"t":1706,"v":51},{"t":1728,"v":42.9},{"t":1750,"v":37.4},{"t":1772,"v":42.9},{"t":1794,"v":45.6},{"t":1815,"v":46.9},{"t":1837,"v":37.4},{"t":1859,"v":40.1},{"t":1881,"v":34.7},{"t":1903,"v":40.1},{"t":1925,"v":45.6},{"t":1947,"v":45.6},{"t":1969,"v":42.9},{"t":2013,"v":48.3},{"t":2044,"v":42.9},{"t":2067,"v":56.5},{"t":2091,"v":51},{"t":2122,"v":40.1},{"t":2154,"v":45.6},{"t":2185,"v":37.4},{"t":2216,"v":42.9},{"t":2248,"v":48.3},{"t":2279,"v":51},{"t":2311,"v":48.3},{"t":2334,"v":44.2},{"t":2358,"v":53.7},{"t":2381,"v":56.5},{"t":2405,"v":51},{"t":2428,"v":59.2},{"t":2452,"v":56.5},{"t":2476,"v":51},{"t":2499,"v":44.2},{"t":2523,"v":48.3},{"t":2546,"v":51},{"t":2570,"v":42.9},{"t":2593,"v":45.6},{"t":2616,"v":51},{"t":2640,"v":48.3},{"t":2664,"v":37.4},{"t":2687,"v":42.9},{"t":2711,"v":40.1},{"t":2734,"v":34.7},{"t":2758,"v":42.9},{"t":2781,"v":45.6},{"t":2805,"v":46.9},{"t":2828,"v":48.3},{"t":2852,"v":42.9},{"t":2875,"v":40.1},{"t":2899,"v":44.2},{"t":2922,"v":37.4},{"t":2946,"v":42.9},{"t":2969,"v":48.3},{"t":2993,"v":45.6},{"t":3016,"v":46.9},{"t":3040,"v":40.1},{"t":3064,"v":34.7},{"t":3087,"v":32},{"t":3111,"v":34.7},{"t":3134,"v":32},{"t":3158,"v":29.3},{"t":3181,"v":32},{"t":3205,"v":29.3},{"t":3228,"v":25.2},{"t":3252,"v":21.1},{"t":3275,"v":23.8},{"t":3299,"v":25.2},{"t":3322,"v":22.4},{"t":3346,"v":25.2},{"t":3369,"v":26.5},{"t":3393,"v":23.8},{"t":3417,"v":26.5},{"t":3440,"v":25.2},{"t":3463,"v":26.5},{"t":3487,"v":25.2},{"t":3511,"v":26.5},{"t":3534,"v":26.5},{"t":3558,"v":25.2},{"t":3581,"v":26.5},{"t":3605,"v":25.2},{"t":3628,"v":26.5},{"t":3652,"v":29.3},{"t":3675,"v":26.5},{"t":3699,"v":27.9},{"t":3723,"v":29.3},{"t":3746,"v":27.9},{"t":3770,"v":29.3},{"t":3801,"v":31.3},{"t":3832,"v":33.3},{"t":3864,"v":36},{"t":3895,"v":38.8},{"t":3973,"v":39.9},{"t":4162,"v":40.8}],
"p4P": [{"t":0,"v":0},{"t":7,"v":20.5},{"t":15,"v":13.7},{"t":22,"v":18.5},{"t":32,"v":5.6},{"t":44,"v":11},{"t":56,"v":5.6},{"t":66,"v":17.8},{"t":76,"v":19.2},{"t":88,"v":27.3},{"t":95,"v":43.6},{"t":102,"v":31.4},{"t":110,"v":15.1},{"t":120,"v":30},{"t":132,"v":35.5},{"t":143,"v":40.9},{"t":154,"v":68.1},{"t":161,"v":51.8},{"t":171,"v":70.8},{"t":179,"v":50.4},{"t":187,"v":65.4},{"t":198,"v":70.8},{"t":205,"v":81.7},{"t":214,"v":70.8},{"t":220,"v":92.5},{"t":231,"v":84.4},{"t":242,"v":96.6},{"t":252,"v":88.5},{"t":261,"v":70.8},{"t":271,"v":78.9},{"t":281,"v":81.7},{"t":290,"v":84.4},{"t":300,"v":89.1},{"t":622,"v":89.1},{"t":627,"v":72.1},{"t":637,"v":81.7},{"t":647,"v":78.9},{"t":656,"v":72.1},{"t":666,"v":81.7},{"t":676,"v":74.9},{"t":688,"v":85.7},{"t":700,"v":72.1},{"t":710,"v":66.7},{"t":720,"v":78.9},{"t":729,"v":99.3},{"t":735,"v":76.2},{"t":747,"v":83},{"t":761,"v":83},{"t":773,"v":76.2},{"t":780,"v":73.5},{"t":793,"v":81.7},{"t":805,"v":85.7},{"t":812,"v":91.8},{"t":1157,"v":91.8},{"t":1189,"v":89.8},{"t":1201,"v":76.2},{"t":1208,"v":66.7},{"t":1218,"v":89.8},{"t":1227,"v":98},{"t":1237,"v":85.7},{"t":1247,"v":93.9},{"t":1259,"v":85.7},{"t":1271,"v":93.9},{"t":1281,"v":85.7},{"t":1293,"v":93.9},{"t":1303,"v":83},{"t":1306,"v":90.5},{"t":1687,"v":90.5},{"t":1696,"v":81.7},{"t":1706,"v":77.6},{"t":1713,"v":70.1},{"t":1720,"v":81.7},{"t":1731,"v":95.2},{"t":1743,"v":98},{"t":1754,"v":92.5},{"t":1764,"v":98},{"t":1775,"v":93.9},{"t":1784,"v":98},{"t":1794,"v":88.5},{"t":2173,"v":88.5},{"t":2178,"v":87.1},{"t":2183,"v":98},{"t":2193,"v":91.2},{"t":2202,"v":98},{"t":2212,"v":92.5},{"t":2219,"v":98.2},{"t":2249,"v":99.6},{"t":2256,"v":98},{"t":2266,"v":88.5},{"t":2273,"v":98.2},{"t":2654,"v":98.2},{"t":2658,"v":91.2},{"t":2665,"v":98},{"t":2677,"v":92.5},{"t":2687,"v":98},{"t":2697,"v":91.2},{"t":2709,"v":96.6},{"t":2731,"v":95.2},{"t":2746,"v":93.9},{"t":2757,"v":83.7},{"t":2768,"v":97.7},{"t":3133,"v":97.7},{"t":3140,"v":91.2},{"t":3148,"v":89.8},{"t":3158,"v":93.9},{"t":3165,"v":82.3},{"t":3174,"v":88.5},{"t":3184,"v":81},{"t":3194,"v":87.1},{"t":3202,"v":92.5},{"t":3213,"v":97.7},{"t":3235,"v":97.7},{"t":3242,"v":88.5},{"t":3253,"v":93.9},{"t":3265,"v":97.7},{"t":3272,"v":91.2},{"t":3623,"v":91.2},{"t":3630,"v":96.6},{"t":3637,"v":79.6},{"t":3648,"v":93.9},{"t":3659,"v":91.2},{"t":3671,"v":95.2},{"t":3681,"v":87.1},{"t":3688,"v":72.1},{"t":3700,"v":92.5},{"t":3710,"v":95.2},{"t":3720,"v":91.2},{"t":3735,"v":92.5},{"t":3744,"v":86.4},{"t":3750,"v":92.5},{"t":3759,"v":95},{"t":4127,"v":95},{"t":4135,"v":91.2},{"t":4142,"v":76.9},{"t":4149,"v":93.9},{"t":4157,"v":98.6},{"t":4172,"v":95.2},{"t":4186,"v":88.5},{"t":4193,"v":85.7},{"t":4206,"v":81.7},{"t":4240,"v":81.7},{"t":4247,"v":70.8},{"t":4254,"v":78.9},{"t":4261,"v":83.7},{"t":4622,"v":83},{"t":4629,"v":74.2},{"t":4636,"v":92.5},{"t":4643,"v":85.7},{"t":4652,"v":81.7},{"t":4660,"v":84.4},{"t":4670,"v":72.1},{"t":4677,"v":80.6},{"t":4738,"v":80.6},{"t":4745,"v":87.1},{"t":4752,"v":89.8},{"t":4759,"v":96.6},{"t":4766,"v":97.8},{"t":5127,"v":98},{"t":5134,"v":80.3},{"t":5140,"v":92.5},{"t":5147,"v":81.7},{"t":5157,"v":92.5},{"t":5165,"v":85},{"t":5175,"v":92.5},{"t":5181,"v":85.7},{"t":5236,"v":85.7},{"t":5243,"v":81.7},{"t":5253,"v":62},{"t":5261,"v":66.7},{"t":5270,"v":74.9},{"t":5280,"v":85.7},{"t":5591,"v":85.7},{"t":5597,"v":84.4},{"t":5604,"v":79.6},{"t":5611,"v":88.5},{"t":5618,"v":92.5},{"t":5625,"v":95.9},{"t":5740,"v":95.9},{"t":5744,"v":85.7},{"t":5751,"v":90.5}],
"p4D": [{"t":0,"v":0},{"t":7,"v":8.3},{"t":22,"v":5.6},{"t":37,"v":2.9},{"t":51,"v":5.6},{"t":66,"v":16.4},{"t":76,"v":27.3},{"t":88,"v":38.2},{"t":95,"v":49},{"t":105,"v":58.6},{"t":117,"v":69.4},{"t":129,"v":78.9},{"t":139,"v":84.4},{"t":149,"v":85},{"t":161,"v":77.6},{"t":176,"v":80.3},{"t":187,"v":81.7},{"t":198,"v":81.7},{"t":208,"v":84.4},{"t":220,"v":83},{"t":227,"v":89.1},{"t":237,"v":85.7},{"t":249,"v":92.5},{"t":264,"v":92.5},{"t":274,"v":94.6},{"t":293,"v":95.2},{"t":305,"v":93.9},{"t":307,"v":93.2},{"t":656,"v":93.2},{"t":659,"v":95.2},{"t":717,"v":95.2},{"t":725,"v":96.3},{"t":790,"v":96.3},{"t":798,"v":96.7},{"t":1186,"v":96.7},{"t":1222,"v":95.9},{"t":1281,"v":95.9},{"t":1288,"v":96.6},{"t":1691,"v":96.6},{"t":1735,"v":95.9},{"t":1772,"v":96.6},{"t":1801,"v":91.8},{"t":1818,"v":95.2},{"t":1925,"v":95.2},{"t":1930,"v":96.3},{"t":2168,"v":96.3},{"t":2175,"v":95.9},{"t":2270,"v":95.9},{"t":2278,"v":95},{"t":2300,"v":95.5},{"t":2307,"v":96.6},{"t":2351,"v":96.6},{"t":2358,"v":95},{"t":2468,"v":95},{"t":2472,"v":93.2},{"t":2526,"v":93.2},{"t":2531,"v":95.9},{"t":2782,"v":95.9},{"t":2841,"v":95.2},{"t":2852,"v":92.3},{"t":2858,"v":94.2},{"t":2899,"v":94.2},{"t":2902,"v":91.4},{"t":3067,"v":91.4},{"t":3070,"v":94.6},{"t":3265,"v":95},{"t":3272,"v":95.5},{"t":3389,"v":95.5},{"t":3394,"v":96.3},{"t":3433,"v":96.3},{"t":3437,"v":92.5},{"t":3754,"v":92.3},{"t":3835,"v":92.3},{"t":3838,"v":95.8},{"t":3864,"v":95.2},{"t":4022,"v":95.2},{"t":4025,"v":89.1},{"t":4233,"v":89.1},{"t":4237,"v":95.2},{"t":4308,"v":95.2},{"t":4315,"v":96.6},{"t":4356,"v":96.6},{"t":4360,"v":95.2},{"t":4630,"v":95.2},{"t":4636,"v":96.3},{"t":4760,"v":96.3},{"t":4770,"v":95.2},{"t":5288,"v":95.2},{"t":5292,"v":93.9},{"t":5306,"v":93.9},{"t":5311,"v":90.9},{"t":5359,"v":90.9},{"t":5361,"v":92.5},{"t":5604,"v":92.5},{"t":5611,"v":91.2},{"t":5747,"v":91.2},{"t":5754,"v":87.8}],
"p4A": [{"t":0,"v":0},{"t":7,"v":11},{"t":32,"v":4.2},{"t":59,"v":11},{"t":76,"v":21.9},{"t":95,"v":43.6},{"t":117,"v":58.6},{"t":139,"v":73.5},{"t":161,"v":76.2},{"t":190,"v":76.2},{"t":212,"v":81.7},{"t":234,"v":88.5},{"t":256,"v":91.2},{"t":278,"v":89.8},{"t":300,"v":92.5},{"t":615,"v":92.5},{"t":630,"v":89.8},{"t":659,"v":91.2},{"t":703,"v":88.5},{"t":725,"v":93.9},{"t":747,"v":92.5},{"t":790,"v":93.9},{"t":812,"v":95.2},{"t":1157,"v":95.2},{"t":1201,"v":92.5},{"t":1222,"v":95.2},{"t":1244,"v":93.9},{"t":1303,"v":94.6},{"t":1684,"v":94.6},{"t":1713,"v":89.8},{"t":1735,"v":95.2},{"t":1786,"v":96},{"t":1801,"v":92.5},{"t":1823,"v":94.6},{"t":2168,"v":94.6},{"t":2197,"v":96.6},{"t":2270,"v":95.9},{"t":2460,"v":95.5},{"t":2475,"v":94.2},{"t":2534,"v":95.9},{"t":2658,"v":96.6},{"t":2768,"v":96.3},{"t":2848,"v":94.2},{"t":2899,"v":92.8},{"t":3067,"v":95.2},{"t":3148,"v":93.9},{"t":3184,"v":88.5},{"t":3235,"v":94.6},{"t":3433,"v":94.2},{"t":3630,"v":92.5},{"t":3688,"v":87.1},{"t":3747,"v":92.5},{"t":3835,"v":93.2},{"t":4025,"v":90.5},{"t":4142,"v":89.8},{"t":4186,"v":89.8},{"t":4240,"v":91.2},{"t":4254,"v":91.8},{"t":4622,"v":91.2},{"t":4636,"v":91.8},{"t":4759,"v":92.5},{"t":5127,"v":93.9},{"t":5250,"v":87.1},{"t":5290,"v":92.5},{"t":5331,"v":89.8},{"t":5604,"v":91.8},{"t":5618,"v":92.5},{"t":5747,"v":91.8}]
},
"spacing": 19,
"resolve": {"scale": {"color": "independent"}, "legend": {"color": "independent"}},
"vconcat": [
 {"width": 1546, "height": 258,
  "layer": [
   {"mark": {"type": "rule", "color": "#9e9e9e", "strokeDash": [5, 3], "strokeWidth": 1.2}, "encoding": {"y": {"datum": 90, "type": "quantitative"}}},
   {"data": {"name": "p1"}, "mark": {"type": "line", "strokeWidth": 2},
    "encoding": {
     "x": {"field": "t", "type": "quantitative", "scale": {"domain": [-288, 6048], "nice": false, "zero": false}, "axis": {"values": [0,1000,2000,3000,4000,5000,6000], "labels": false, "title": null}},
     "y": {"field": "v", "type": "quantitative", "scale": {"domain": [0, 105], "nice": false}, "axis": {"values": [0,20,40,60,80,100], "title": ["8C", "KV pool (%)"], "titlePadding": 13, "labelPadding": 5}},
     "color": {"datum": "cluster (kv_both)", "scale": {"domain": ["cluster (kv_both)"], "range": ["#222222"]}, "legend": {"columns": 1}}
    }}
  ]},
 {"width": 1546, "height": 258,
  "encoding": {
   "x": {"field": "t", "type": "quantitative", "scale": {"domain": [-288, 6048], "nice": false, "zero": false}, "axis": {"values": [0,1000,2000,3000,4000,5000,6000], "labels": false, "title": null}},
   "y": {"field": "v", "type": "quantitative", "scale": {"domain": [0, 105], "nice": false}, "axis": {"values": [0,20,40,60,80,100], "title": ["6P+2D", "KV pool (%)"], "titlePadding": 13, "labelPadding": 5}}
  },
  "layer": [
   {"mark": {"type": "rule", "color": "#9e9e9e", "strokeDash": [5, 3], "strokeWidth": 1.2}, "encoding": {"y": {"datum": 90, "type": "quantitative"}}},
   {"data": {"name": "p2P"}, "mark": {"type": "line", "strokeWidth": 2}, "encoding": {"color": {"datum": "P-pool (prefill)", "scale": {"domain": ["P-pool (prefill)", "D-pool (decode)", "cluster avg"], "range": ["#4c72b0", "#c44e52", "#8c8c8c"]}, "legend": {"columns": 3, "encode": {"symbols": {"update": {"strokeDash": {"signal": "datum.label == 'cluster avg' ? [1.5, 2] : [1, 0]"}, "strokeWidth": {"signal": "datum.label == 'cluster avg' ? 1.2 : 2"}}}}}}}},
   {"data": {"name": "p2D"}, "mark": {"type": "line", "strokeWidth": 2}, "encoding": {"color": {"datum": "D-pool (decode)"}}},
   {"data": {"name": "p2A"}, "mark": {"type": "line", "strokeWidth": 1.2, "strokeDash": [1.5, 2]}, "encoding": {"color": {"datum": "cluster avg"}}}
  ]},
 {"width": 1546, "height": 258,
  "encoding": {
   "x": {"field": "t", "type": "quantitative", "scale": {"domain": [-288, 6048], "nice": false, "zero": false}, "axis": {"values": [0,1000,2000,3000,4000,5000,6000], "labels": false, "title": null}},
   "y": {"field": "v", "type": "quantitative", "scale": {"domain": [0, 105], "nice": false}, "axis": {"values": [0,20,40,60,80,100], "title": ["4P+4D", "KV pool (%)"], "titlePadding": 13, "labelPadding": 5}}
  },
  "layer": [
   {"mark": {"type": "rule", "color": "#9e9e9e", "strokeDash": [5, 3], "strokeWidth": 1.2}, "encoding": {"y": {"datum": 90, "type": "quantitative"}}},
   {"data": {"name": "p3P"}, "mark": {"type": "line", "strokeWidth": 2}, "encoding": {"color": {"datum": "P-pool (prefill)", "scale": {"domain": ["P-pool (prefill)", "D-pool (decode)", "cluster avg"], "range": ["#4c72b0", "#c44e52", "#8c8c8c"]}, "legend": {"columns": 3, "encode": {"symbols": {"update": {"strokeDash": {"signal": "datum.label == 'cluster avg' ? [1.5, 2] : [1, 0]"}, "strokeWidth": {"signal": "datum.label == 'cluster avg' ? 1.2 : 2"}}}}}}}},
   {"data": {"name": "p3D"}, "mark": {"type": "line", "strokeWidth": 2}, "encoding": {"color": {"datum": "D-pool (decode)"}}},
   {"data": {"name": "p3A"}, "mark": {"type": "line", "strokeWidth": 1.2, "strokeDash": [1.5, 2]}, "encoding": {"color": {"datum": "cluster avg"}}}
  ]},
 {"width": 1546, "height": 258,
  "encoding": {
   "x": {"field": "t", "type": "quantitative", "scale": {"domain": [-288, 6048], "nice": false, "zero": false}, "axis": {"values": [0,1000,2000,3000,4000,5000,6000], "format": "d", "title": "wall-clock since first snapshot (s)", "labelPadding": 5.5, "titlePadding": 10}},
   "y": {"field": "v", "type": "quantitative", "scale": {"domain": [0, 105], "nice": false}, "axis": {"values": [0,20,40,60,80,100], "title": ["2P+6D", "KV pool (%)"], "titlePadding": 13, "labelPadding": 5}}
  },
  "layer": [
   {"mark": {"type": "rule", "color": "#9e9e9e", "strokeDash": [5, 3], "strokeWidth": 1.2}, "encoding": {"y": {"datum": 90, "type": "quantitative"}}},
   {"data": {"name": "p4P"}, "mark": {"type": "line", "strokeWidth": 2}, "encoding": {"color": {"datum": "P-pool (prefill)", "scale": {"domain": ["P-pool (prefill)", "D-pool (decode)", "cluster avg"], "range": ["#4c72b0", "#c44e52", "#8c8c8c"]}, "legend": {"columns": 3, "encode": {"symbols": {"update": {"strokeDash": {"signal": "datum.label == 'cluster avg' ? [1.5, 2] : [1, 0]"}, "strokeWidth": {"signal": "datum.label == 'cluster avg' ? 1.2 : 2"}}}}}}}},
   {"data": {"name": "p4D"}, "mark": {"type": "line", "strokeWidth": 2}, "encoding": {"color": {"datum": "D-pool (decode)"}}},
   {"data": {"name": "p4A"}, "mark": {"type": "line", "strokeWidth": 1.2, "strokeDash": [1.5, 2]}, "encoding": {"color": {"datum": "cluster avg"}}}
  ]}
]
}
